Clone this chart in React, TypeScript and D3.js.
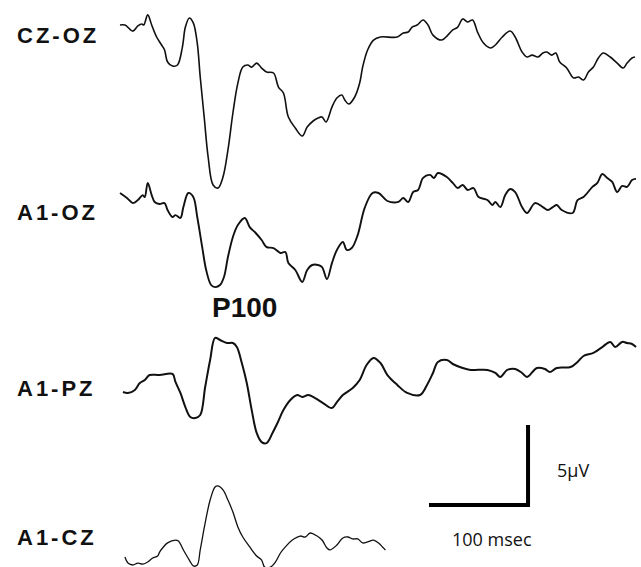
import React from 'react';
import * as d3 from 'd3';

// [msec, µV] points
const czOz: [number, number][] = [
  [0, 0], [5, 0], [13, -0.38], [18, -0.06], [22, 0.06], [24, 0], [28, 0.63], [32, 0],
  [37, -0.75], [42, -1.25], [45, -1.56], [48, -2.31], [53, -2.56], [58, -2.5], [63, -1.38],
  [66, -0.13], [70, 0.44], [74, 0.13], [78, -1.13], [81, -3.25], [85, -5.75], [89, -8.25],
  [94, -10], [99, -10.19], [104, -9.5], [109, -7.81], [114, -5.5], [119, -3.63], [124, -2.63],
  [129, -2.5], [133, -2.63], [138, -2.38], [143, -2.69], [148, -2.94], [155, -3], [160, -3.88],
  [165, -4.25], [170, -5.75], [177, -6.44], [184, -6.94], [189, -6.38], [195, -6.0], [200, -5.81],
  [204, -5.75], [208, -6.06], [214, -5.13], [219, -4.56], [224, -4.38], [227, -4.69], [231, -4.94],
  [237, -4.5], [242, -3.63], [245, -2.63], [250, -1.56], [256, -0.94], [263, -0.75], [280, -0.75],
  [286, -0.5], [291, -0.44], [295, -0.13], [300, 0], [306, 0.31], [311, 0], [316, -0.63],
  [325, -0.94], [331, -0.63], [336, -0.31], [341, -0.13], [346, 0.38], [351, 0.19], [356, 0.31],
  [361, -0.44], [367, -1.13], [374, -1.44], [379, -1.25], [386, -0.75], [394, -0.38], [399, -0.75],
  [406, -1.69], [411, -2.0], [416, -1.88], [422, -2.0], [427, -1.75], [431, -1.69], [436, -1.88],
  [440, -1.75], [444, -2.31], [451, -2.69], [458, -3.31], [463, -3.25], [468, -3.44], [473, -2.94],
  [478, -2.63], [483, -2.06], [488, -1.75], [495, -2.0], [502, -2.38], [508, -2.69], [512, -2.38],
  [517, -2.06], [520, -2.0],
];

const a1Oz: [number, number][] = [
  [0, 0], [7, -0.31], [13, -0.63], [18, -0.44], [23, -0.13], [25, -0.25], [28, 0.63], [32, -0.13],
  [35, -0.56], [40, -0.69], [45, -0.63], [48, -1.06], [53, -1.5], [56, -1.38], [61, -1.56],
  [64, -0.88], [69, 0], [74, -0.25], [78, -1.5], [83, -3.38], [87, -4.81], [92, -5.75], [96, -5.88],
  [101, -5.75], [105, -5.25], [109, -4.0], [114, -2.75], [119, -2.0], [126, -1.56], [131, -2.13],
  [137, -2.5], [143, -2.94], [148, -3.38], [155, -3.44], [162, -3.75], [167, -3.69], [170, -4.38],
  [177, -4.81], [184, -5.56], [189, -4.81], [194, -4.5], [200, -4.5], [204, -4.63], [209, -5.38],
  [214, -4.38], [219, -3.56], [225, -3.06], [229, -3.56], [234, -3.44], [240, -2.63], [247, -0.94],
  [255, 0], [261, 0], [270, -0.5], [281, -0.56], [286, -0.31], [291, -0.56], [296, 0.06], [301, 0.19],
  [306, 0.94], [313, 1.13], [317, 0.94], [321, 1.25], [330, 1.0], [336, 0.63], [341, 0.31],
  [346, 0.5], [351, 0.19], [357, 0.31], [362, -0.25], [371, -0.44], [376, -0.75], [379, -0.56],
  [384, -0.88], [389, -0.13], [394, 0.25], [399, 0.06], [406, -0.88], [411, -1.25], [419, -0.63],
  [427, -0.88], [432, -1.06], [437, -0.88], [441, -0.75], [446, -1.06], [457, -1.25], [462, -0.44],
  [468, -0.25], [477, 0.38], [482, 0.63], [487, 1.19], [492, 0.94], [497, 0.69], [502, 0.06],
  [507, 0.44], [512, 0.38], [517, 0.81], [521, 0.88],
];

const a1Pz: [number, number][] = [
  [3, 0], [8, -0.06], [15, 0.13], [20, 0.56], [25, 0.75], [30, 1.06], [40, 1.06], [53, 1.13],
  [56, 0.63], [61, -0.06], [66, -0.94], [71, -1.56], [76, -1.63], [81, -1.44], [86, 0.31], [91, 2.0],
  [96, 3.38], [101, 3.25], [108, 3.06], [114, 3.06], [118, 2.81], [123, 1.81], [128, 0.56],
  [133, -1.13], [138, -2.56], [143, -3.13], [148, -3.19], [154, -2.56], [159, -1.94], [165, -1.13],
  [172, -0.5], [179, -0.19], [184, -0.31], [190, -0.19], [197, -0.38], [205, -0.69], [214, -1.0],
  [219, -0.63], [225, -0.19], [235, 0.25], [242, 0.75], [249, 1.69], [256, 2.13], [263, 1.81],
  [270, 1.06], [280, 0.44], [290, -0.06], [303, -0.19], [310, 0.44], [316, 1.19], [321, 1.88],
  [330, 2.0], [336, 1.75], [346, 1.5], [354, 1.38], [371, 1.38], [379, 1.19], [384, 0.94],
  [391, 1.38], [399, 1.44], [406, 1.19], [411, 0.94], [421, 1.5], [429, 1.44], [434, 1.25],
  [441, 1.5], [455, 1.56], [462, 1.88], [468, 2.25], [478, 2.44], [487, 2.81], [495, 3.13],
  [500, 2.81], [507, 3.13], [512, 3.06], [517, 3.0], [521, 2.81],
];

const a1Cz: [number, number][] = [
  [5, 0], [8, -0.38], [13, -0.5], [18, -0.38], [23, -0.44], [28, -0.31], [33, -0.06], [38, 0.06],
  [40, 0.31], [43, 0.56], [48, 0.88], [56, 1.06], [59, 1.0], [64, 0.44], [70, -0.19], [74, -0.56],
  [78, -0.5], [81, 0.44], [86, 2.13], [91, 3.56], [96, 4.38], [99, 4.44], [104, 4.19], [109, 3.56],
  [114, 2.81], [119, 1.88], [124, 1.25], [131, 0.63], [138, 0.06], [143, -0.19], [146, -0.63],
  [152, -0.63], [157, -0.31], [162, 0.25], [167, 0.63], [174, 1.06], [182, 1.31], [187, 1.25],
  [192, 1.5], [199, 1.31], [204, 1.06], [209, 0.56], [212, 0.44], [219, 0.75], [225, 1.19],
  [230, 1.25], [235, 1.13], [240, 1.13], [245, 0.88], [250, 0.94], [256, 1.06], [261, 0.88],
  [265, 0.63], [268, 0.44],
];

const channels = ['CZ-OZ', 'A1-OZ', 'A1-PZ', 'A1-CZ'];
const series = [czOz, a1Oz, a1Pz, a1Cz];
const baselines = [25, 193, 392, 557];
const labelY = [43, 220, 396, 545];
const strokeW = [1.6, 1.9, 2, 1.3];

const scaleBarMs = 100;
const scaleBarUv = 5;

const W = 641;
const H = 567;
const pxPerUv = 16;

export default function App() {
  const x = d3.scaleLinear().domain([0, 520]).range([120, 635]);
  const yFor = (base: number) => d3.scaleLinear().domain([0, 1]).range([base, base - pxPerUv]);

  const barStart = 312;
  const barY = yFor(505);
  const x0 = x(barStart);
  const x1 = x(barStart + scaleBarMs);

  return (
    <svg
      width={W}
      height={H}
      style={{ position: 'absolute', left: 0, top: 0, background: '#fff' }}
    >
      {series.map((d, i) => {
        const y = yFor(baselines[i]);
        const line = d3
          .line<[number, number]>()
          .x((p) => x(p[0]))
          .y((p) => y(p[1]))
          .curve(d3.curveCatmullRom.alpha(0.5));
        return (
          <g key={channels[i]}>
            <path d={line(d) ?? ''} fill="none" stroke="#111" strokeWidth={strokeW[i]} strokeLinejoin="round" />
            <text
              x={17}
              y={labelY[i]}
              fontFamily="Liberation Sans, Arial, sans-serif"
              fontWeight="bold"
              fontSize={22}
              letterSpacing={3}
              fill="#111"
            >
              {channels[i]}
            </text>
          </g>
        );
      })}

      <text x={212} y={317} fontFamily="Liberation Sans, Arial, sans-serif" fontWeight="bold" fontSize={28} fill="#111">
        P100
      </text>

      {/* calibration bar */}
      <path
        d={`M${x0},${barY(0)}H${x1}V${barY(scaleBarUv)}`}
        fill="none"
        stroke="#000"
        strokeWidth={4}
      />
      <text x={557} y={477} fontFamily="Open Sans, sans-serif" fontSize={18} fill="#111">
        {scaleBarUv}μV
      </text>
      <text x={452} y={546} fontFamily="Open Sans, sans-serif" fontSize={18} fill="#111">
        {scaleBarMs} msec
      </text>
    </svg>
  );
}
